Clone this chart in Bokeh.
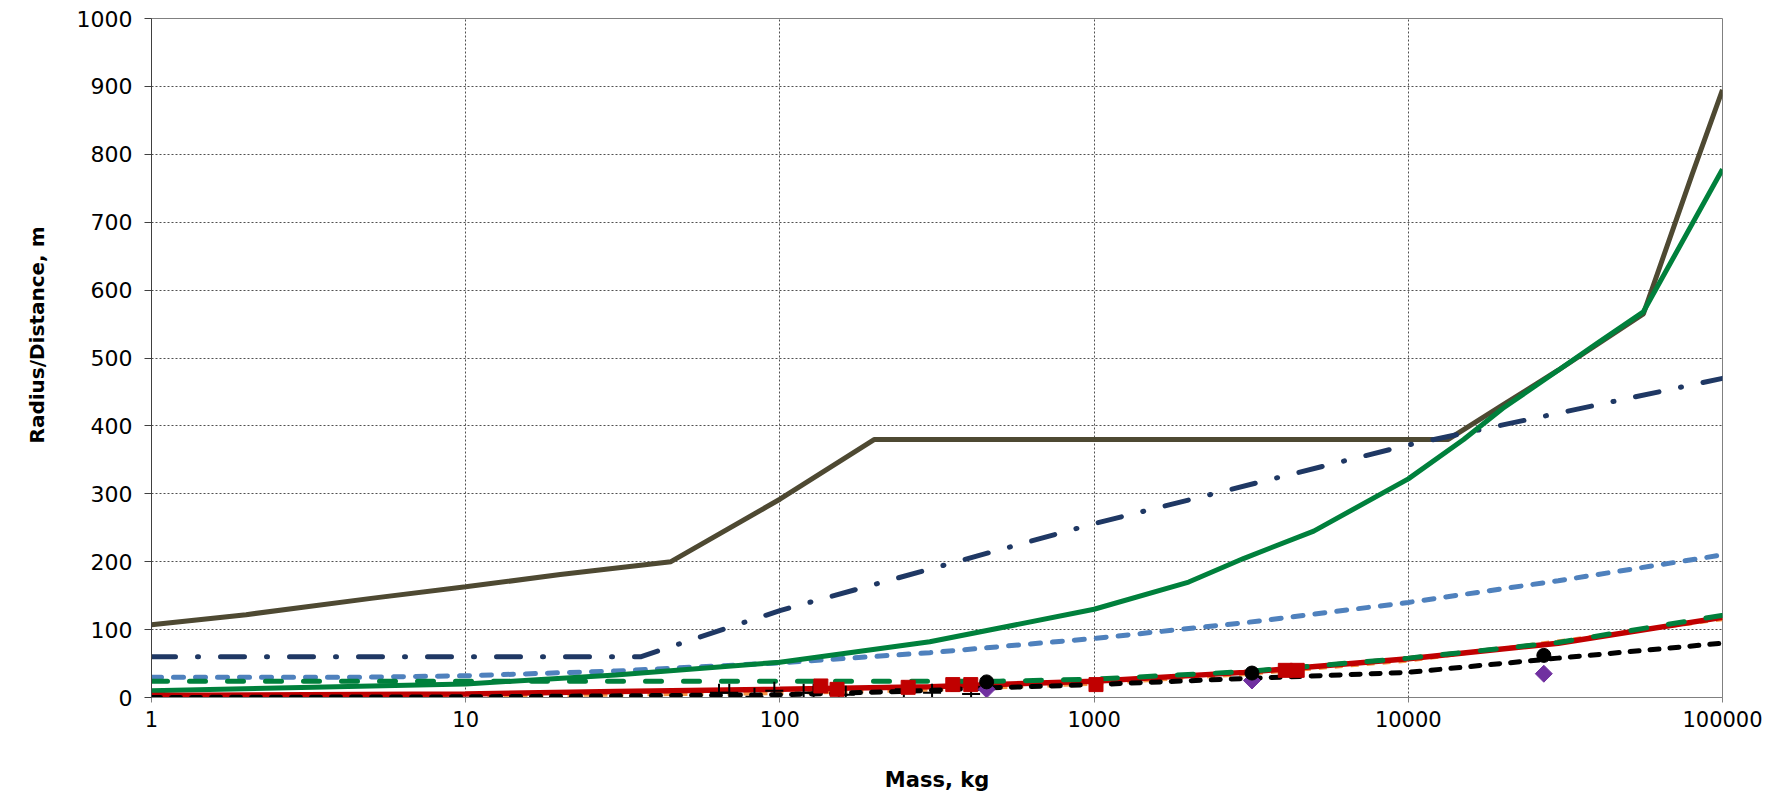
from bokeh.plotting import figure
from bokeh.models import FixedTicker, NumeralTickFormatter, Title
from bokeh.embed import file_html
from bokeh.resources import INLINE

# ---- data ----
x_ticks = [1, 10, 100, 1000, 10000, 100000]
y_ticks = [0, 100, 200, 300, 400, 500, 600, 700, 800, 900, 1000]

brown_m = [1, 2, 5, 10, 20, 45, 100, 200, 1000, 13400, 20000, 30000, 56000, 80000, 100000]
brown_r = [107, 122, 146, 163, 181, 200, 292, 380, 380, 380, 431, 482, 565, 770, 895]

green_m = [1, 10, 30, 100, 300, 1000, 2000, 3000, 5000, 10000, 15000, 20000, 30000, 40000, 56000, 100000]
green_r = [10, 20, 33, 52, 82, 130, 170, 205, 245, 322, 380, 426, 482, 522, 568, 778]

navy_m = [1, 36, 100, 1000, 10000, 100000]
navy_r = [60, 60, 128, 256, 372, 470]

blue_m = [1, 5, 10, 30, 100, 300, 1000, 3000, 10000, 30000, 100000]
blue_r = [30, 30, 32, 39, 51, 66, 87, 110, 140, 172, 210]

gdash_m = [1, 100, 500, 1000, 3000, 10000, 30000, 100000]
gdash_r = [24, 24, 24, 27, 38, 58, 81, 121]

red_m = [1, 10, 30, 100, 300, 1000, 3000, 10000, 30000, 100000]
red_r = [3, 5, 9, 12, 16, 24, 37, 57, 80, 118]

orange_m = [1, 10, 100, 300, 1000, 3000, 10000, 100000]
orange_r = [1, 2, 6, 11, 20, 34, 54, 115]

black_m = [1, 10, 100, 250, 450, 1000, 3000, 10000, 30000, 100000]
black_r = [0, 1, 4, 9, 14, 19, 28, 37, 58, 80]

sq_m = [135, 152, 256, 355, 405, 1014, 4060, 4430]
sq_r = [17, 12, 15, 19, 19, 19, 40, 40]

plus_m = [64, 69, 83, 96, 119, 128, 154, 162, 248, 305, 406]
plus_r = [7, 7, 1, 10, 7, 7, 4, 4, 12, 7, 5]

circ_m = [455, 3180, 27000]
circ_r = [23, 36, 62]

diam_m = [455, 3180, 27000]
diam_r = [12, 25, 35]

y_title = "Radius/Distance, m"
x_title = "Mass, kg"

# ---- figure ----
p = figure(width=1779, height=794, x_axis_type="log",
           x_range=(1, 100000), y_range=(0, 1000),
           output_backend="svg", toolbar_location=None,
           min_border_left=151, min_border_right=57,
           min_border_top=18, min_border_bottom=94)
p.background_fill_color = "white"
p.border_fill_color = "white"
p.outline_line_color = "#808080"
p.outline_line_width = 1

# axes
p.xaxis.ticker = FixedTicker(ticks=x_ticks)
p.xaxis.formatter = NumeralTickFormatter(format="0")
p.yaxis.ticker = FixedTicker(ticks=y_ticks)
for ax in (p.xaxis[0], p.yaxis[0]):
    ax.minor_tick_line_color = None
    ax.major_tick_in = 0
    ax.major_label_text_font = "DejaVu Sans"
    ax.major_label_text_color = "black"
    ax.axis_label_text_font = "DejaVu Sans"
    ax.axis_label_text_font_style = "bold"
    ax.axis_label_text_font_size = "21px"
    ax.axis_label_text_color = "black"
p.yaxis.major_label_text_font_size = "22px"
p.xaxis.major_label_text_font_size = "21px"
p.yaxis.major_tick_out = 7
p.yaxis.major_label_standoff = 12
p.yaxis.axis_line_color = "#404040"
p.yaxis.major_tick_line_color = "#404040"
p.xaxis.major_tick_out = 5
p.xaxis.major_label_standoff = 8
p.xaxis.axis_line_color = "#808080"
p.xaxis.major_tick_line_color = "#808080"
p.xaxis.axis_label = x_title
p.xaxis.axis_label_standoff = 38

# y title as a left-side Title, anchored from the frame bottom so it sits a bit high
yt = Title(text=y_title, align="left", offset=254, standoff=45,
           vertical_align="top",
           text_font="DejaVu Sans", text_font_style="bold",
           text_font_size="20px", text_color="black")
p.add_layout(yt, "left")

# grids
for g in (p.xgrid[0], p.ygrid[0]):
    g.grid_line_color = "#505050"
    g.grid_line_dash = "2 2"
    g.grid_line_width = 1

# ---- series ----
p.line(brown_m, brown_r, line_color="#4E4932", line_width=5)
p.line(navy_m, navy_r, line_color="#1F3864", line_width=5,
       line_dash="24 22 1 22", line_cap="round")
p.line(blue_m, blue_r, line_color="#4F81BD", line_width=5,
       line_dash="10 12", line_cap="round")
p.line(green_m, green_r, line_color="#00803C", line_width=5)
p.line(orange_m, orange_r, line_color="#F79646", line_width=3.5,
       line_dash="8 8")
p.line(red_m, red_r, line_color="#C00000", line_width=5.5)
p.line(gdash_m, gdash_r, line_color="#00803C", line_width=5,
       line_dash="16 22", line_cap="round")
p.line(black_m, black_r, line_color="black", line_width=5,
       line_dash="9 11", line_cap="round")

p.scatter(plus_m, plus_r, marker="cross", size=18, line_color="black",
          line_width=2)
p.scatter(sq_m, sq_r, marker="square", size=14, fill_color="#C00000",
          line_color="#C00000")
p.scatter(diam_m, diam_r, marker="square", angle=0.785398, size=12,
          fill_color="#7030A0", line_color="#7030A0")
p.scatter(circ_m, circ_r, marker="circle", size=14, fill_color="black",
          line_color="black")

open("out.html", "w").write(file_html(p, INLINE))
